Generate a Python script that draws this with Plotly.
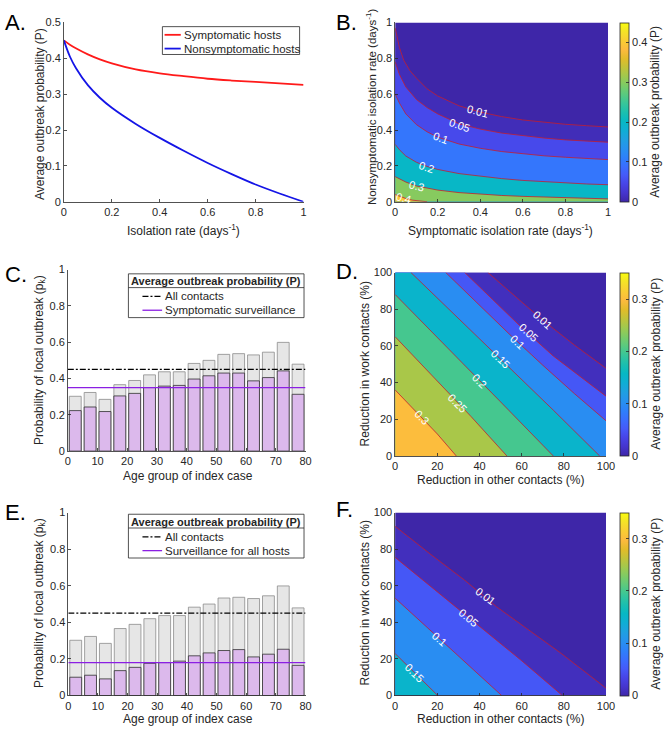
import plotly.graph_objects as go
from plotly.colors import sample_colorscale

W, H = 672, 733

# ---------------- DATA ----------------
# Panel A
a_rate = [0, 0.025, 0.05, 0.1, 0.15, 0.2, 0.3, 0.4, 0.5, 0.6, 0.7, 0.8, 0.9, 1.0]
a_sym = [0.45, 0.438, 0.428, 0.411, 0.397, 0.386, 0.369, 0.358, 0.350, 0.343, 0.338, 0.334, 0.330, 0.326]
a_non = [0.45, 0.405, 0.373, 0.325, 0.290, 0.262, 0.217, 0.178, 0.142, 0.108, 0.077, 0.048, 0.023, 0.0]

# Panel B contour lines (symptomatic rate -> nonsymptomatic rate)
b_levels = [0.01, 0.05, 0.1, 0.2, 0.3, 0.4]
b_x01 = [0.0, 0.02, 0.04, 0.07, 0.1, 0.15, 0.2, 0.3, 0.4, 0.5, 0.6, 0.7, 0.8, 0.9, 1.0]
b_y01 = [0.97, 0.86, 0.79, 0.73, 0.69, 0.63, 0.59, 0.535, 0.50, 0.475, 0.456, 0.442, 0.432, 0.424, 0.417]
b_x05 = [0.0, 0.02, 0.05, 0.1, 0.15, 0.2, 0.3, 0.4, 0.5, 0.6, 0.7, 0.8, 0.9, 1.0]
b_y05 = [0.78, 0.71, 0.64, 0.57, 0.525, 0.49, 0.435, 0.405, 0.383, 0.367, 0.355, 0.345, 0.337, 0.332]
b_x1 = [0.0, 0.02, 0.05, 0.1, 0.15, 0.2, 0.3, 0.4, 0.5, 0.6, 0.7, 0.8, 0.9, 1.0]
b_y1 = [0.60, 0.55, 0.49, 0.43, 0.39, 0.36, 0.322, 0.298, 0.28, 0.266, 0.256, 0.248, 0.241, 0.235]
b_x2 = [0.0, 0.02, 0.05, 0.1, 0.15, 0.2, 0.3, 0.4, 0.5, 0.6, 0.7, 0.8, 0.9, 1.0]
b_y2 = [0.32, 0.29, 0.255, 0.22, 0.197, 0.18, 0.157, 0.141, 0.129, 0.119, 0.111, 0.105, 0.099, 0.095]
b_x3 = [0.0, 0.02, 0.05, 0.1, 0.15, 0.2, 0.3, 0.4, 0.5, 0.6, 0.7, 0.8, 0.9, 1.0]
b_y3 = [0.14, 0.127, 0.11, 0.088, 0.075, 0.065, 0.051, 0.042, 0.035, 0.030, 0.026, 0.022, 0.019, 0.016]
b_x4 = [0.0, 0.02, 0.05, 0.08, 0.11, 0.15]
b_y4 = [0.04, 0.03, 0.018, 0.009, 0.004, 0.0]
b_lab = ["0.01", "0.05", "0.1", "0.2", "0.3", "0.4"]
b_lab_x = [0.385, 0.30, 0.215, 0.146, 0.10, 0.038]
b_lab_y = [0.505, 0.43, 0.355, 0.195, 0.086, 0.022]
b_lab_ang = [15, 19, 20, 19, 14, 14]

# Panels C / E (age groups)
age_mid = [2.5, 7.5, 12.5, 17.5, 22.5, 27.5, 32.5, 37.5, 42.5, 47.5, 52.5, 57.5, 62.5, 67.5, 72.5, 77.5]
p_all = [0.302, 0.323, 0.285, 0.366, 0.389, 0.420, 0.437, 0.437, 0.483, 0.500, 0.533, 0.537, 0.530, 0.545, 0.599, 0.479]
p_symp = [0.223, 0.243, 0.218, 0.304, 0.318, 0.350, 0.358, 0.362, 0.397, 0.415, 0.430, 0.430, 0.387, 0.405, 0.442, 0.313]
p_surv = [0.100, 0.111, 0.091, 0.136, 0.154, 0.176, 0.180, 0.188, 0.217, 0.233, 0.246, 0.251, 0.211, 0.226, 0.253, 0.165]
P_all = 0.45
P_symp = 0.35
P_surv = 0.18

# Panel D contour lines (other contacts % -> work contacts %)
d_levels = [0.01, 0.05, 0.1, 0.15, 0.2, 0.25, 0.3]
d_x01 = [44, 55, 65, 75, 85, 100]
d_y01 = [100, 88.8, 79.0, 69.5, 60.5, 47.8]
d_x05 = [33, 45, 60, 75, 100]
d_y05 = [100, 86.5, 70.0, 54.5, 32.6]
d_x1 = [24, 40, 55, 70, 85, 100]
d_y1 = [100, 82, 65.5, 49.5, 34, 19.2]
d_x15 = [7.5, 30, 52, 75, 97]
d_y15 = [100, 75, 50.5, 25, 0]
d_x2 = [0, 25, 50, 75]
d_y2 = [88, 59, 29.5, 0]
d_x25 = [0, 18, 36, 53]
d_y25 = [65, 43, 21.5, 0]
d_x3 = [0, 10, 20, 29]
d_y3 = [36, 24, 12, 0]
d_lab = ["0.01", "0.05", "0.1", "0.15", "0.2", "0.25", "0.3"]
d_lab_x = [70, 63, 58, 50, 40, 29.5, 12.4]
d_lab_y = [74.3, 67.5, 62.2, 53, 41, 29, 21]
d_lab_ang = [42, 43, 44, 44, 44, 45, 45]

# Panel F contour lines
f_levels = [0.01, 0.05, 0.1, 0.15]
f_x01 = [0, 17, 33, 48, 64, 79, 95, 100]
f_y01 = [92.5, 77, 63, 48.6, 35.3, 22.8, 8.5, 4]
f_x05 = [0, 20, 40, 60, 79.3]
f_y05 = [75.5, 56.5, 37.5, 19, 0]
f_x1 = [0, 12, 25, 38, 50.5]
f_y1 = [53.2, 40.5, 27, 13.5, 0]
f_x15 = [0, 10, 20.2]
f_y15 = [22.9, 11.5, 0]
f_lab = ["0.01", "0.05", "0.1", "0.15"]
f_lab_x = [42.8, 35, 21, 9.3]
f_lab_y = [54.5, 42.5, 31, 12.5]
f_lab_ang = [37, 40, 42, 44]

cmax_B = 0.45
cmax_DF = 0.35

# parula colormap
parula = [
    [0.00, "rgb(62,38,168)"], [0.05, "rgb(69,53,205)"], [0.10, "rgb(71,68,231)"],
    [0.15, "rgb(69,90,249)"], [0.20, "rgb(57,110,254)"], [0.25, "rgb(45,129,250)"],
    [0.30, "rgb(39,146,239)"], [0.35, "rgb(31,160,225)"], [0.40, "rgb(15,174,212)"],
    [0.45, "rgb(7,184,196)"], [0.50, "rgb(27,191,175)"], [0.55, "rgb(55,197,154)"],
    [0.60, "rgb(88,202,128)"], [0.65, "rgb(123,203,103)"], [0.70, "rgb(159,201,79)"],
    [0.75, "rgb(193,195,58)"], [0.80, "rgb(226,188,42)"], [0.85, "rgb(252,186,62)"],
    [0.90, "rgb(249,205,52)"], [0.95, "rgb(244,226,40)"], [1.00, "rgb(249,251,14)"],
]

TXT = "#262626"
LINE_RED = "#c41e2e"
PURPLE = "#8b1fe3"
FONT = "Liberation Sans, Arial, sans-serif"
TICK = 11

fig = go.Figure()


def xd(px):
    return px / W


def yd(py):
    return 1 - py / H


# ---------------- axes layout ----------------
axes = {
    "": dict(x=(62, 306), y=(16.7, 199), xr=[0, 1], yr=[0, 0.5],
             xt=[0, 0.2, 0.4, 0.6, 0.8, 1], yt=[0, 0.1, 0.2, 0.3, 0.4, 0.5]),
    "2": dict(x=(399.3, 616), y=(16.7, 199), xr=[0, 1], yr=[0, 1],
              xt=[0, 0.2, 0.4, 0.6, 0.8, 1], yt=[0, 0.2, 0.4, 0.6, 0.8, 1]),
    "3": dict(x=(66, 308), y=(268, 452.5), xr=[0, 80], yr=[0, 1],
              xt=list(range(0, 81, 10)), yt=[0, 0.2, 0.4, 0.6, 0.8, 1]),
    "4": dict(x=(399.3, 614), y=(271, 457.5), xr=[0, 100], yr=[0, 100],
              xt=list(range(0, 101, 20)), yt=list(range(0, 101, 20))),
    "5": dict(x=(66.5, 308), y=(515, 701), xr=[0, 80], yr=[0, 1],
              xt=list(range(0, 81, 10)), yt=[0, 0.2, 0.4, 0.6, 0.8, 1]),
    "6": dict(x=(399.3, 614), y=(515, 701), xr=[0, 100], yr=[0, 100],
              xt=list(range(0, 101, 20)), yt=list(range(0, 101, 20))),
}


def fmt(v):
    return "%g" % v


layout_axes = {}
for k, a in axes.items():
    common = dict(showline=True, linecolor=TXT, linewidth=0.8, ticks="inside", ticklen=3,
                  tickwidth=0.8, tickcolor=TXT, showgrid=False, zeroline=False,
                  tickfont=dict(size=TICK, color=TXT, family=FONT), fixedrange=True, mirror=False)
    layout_axes["xaxis" + k] = dict(domain=[xd(a["x"][0]), xd(a["x"][1])], range=a["xr"],
                                    anchor="y" + k, tickvals=a["xt"],
                                    ticktext=[fmt(v) for v in a["xt"]], **common)
    layout_axes["yaxis" + k] = dict(domain=[yd(a["y"][1]), yd(a["y"][0])], range=a["yr"],
                                    anchor="x" + k, tickvals=a["yt"],
                                    ticktext=[fmt(v) for v in a["yt"]], ticklabelstandoff=0, **common)

# ---------------- Panel A ----------------
fig.add_trace(go.Scatter(x=a_rate, y=a_sym, mode="lines", line=dict(color="#ff1a1a", width=1.8, shape="spline"),
                         showlegend=False, xaxis="x", yaxis="y"))
fig.add_trace(go.Scatter(x=a_rate, y=a_non, mode="lines", line=dict(color="#1515e6", width=1.8, shape="spline"),
                         showlegend=False, xaxis="x", yaxis="y"))


# ---------------- contour panels ----------------
def band_color(level, cmax):
    return sample_colorscale(parula, [min(level / cmax, 1.0)])[0]


def region(xs, ys, xmax, ymax):
    px, py = list(xs), list(ys)
    if py[-1] > 0:
        px.append(xmax); py.append(0)
    px.append(0); py.append(0)
    if px[0] > 0:
        px.append(0); py.append(ymax)
    px.append(xs[0]); py.append(ys[0])
    return px, py


def contour_panel(k, lines, levels, cmax, xmax, ymax, labs, lx, ly, lang):
    fig.add_trace(go.Scatter(x=[0, xmax, xmax, 0, 0], y=[0, 0, ymax, ymax, 0], fill="toself",
                             fillcolor=band_color(0.0, cmax), mode="lines", line=dict(width=0),
                             hoverinfo="skip", showlegend=False, xaxis="x" + k, yaxis="y" + k))
    for (xs, ys), lev in zip(lines, levels):
        px, py = region(xs, ys, xmax, ymax)
        fig.add_trace(go.Scatter(x=px, y=py, fill="toself", fillcolor=band_color(lev, cmax),
                                 mode="lines", line=dict(width=0), hoverinfo="skip",
                                 showlegend=False, xaxis="x" + k, yaxis="y" + k))
    for xs, ys in lines:
        fig.add_trace(go.Scatter(x=xs, y=ys, mode="lines", line=dict(color=LINE_RED, width=0.8),
                                 hoverinfo="skip", showlegend=False, xaxis="x" + k, yaxis="y" + k))
    for t, x, y, ang in zip(labs, lx, ly, lang):
        fig.add_annotation(x=x, y=y, xref="x" + k, yref="y" + k, text=t, showarrow=False,
                           textangle=ang, font=dict(size=11, color="white", family=FONT))


contour_panel("2", [(b_x01, b_y01), (b_x05, b_y05), (b_x1, b_y1), (b_x2, b_y2), (b_x3, b_y3), (b_x4, b_y4)],
              b_levels, cmax_B, 1, 1, b_lab, b_lab_x, b_lab_y, b_lab_ang)
contour_panel("4", [(d_x01, d_y01), (d_x05, d_y05), (d_x1, d_y1), (d_x15, d_y15), (d_x2, d_y2),
                    (d_x25, d_y25), (d_x3, d_y3)],
              d_levels, cmax_DF, 100, 100, d_lab, d_lab_x, d_lab_y, d_lab_ang)
contour_panel("6", [(f_x01, f_y01), (f_x05, f_y05), (f_x1, f_y1), (f_x15, f_y15)],
              f_levels, cmax_DF, 100, 100, f_lab, f_lab_x, f_lab_y, f_lab_ang)

# colorbar carriers
for k, ca in [("2", "coloraxis"), ("4", "coloraxis2"), ("6", "coloraxis3")]:
    fig.add_trace(go.Scatter(x=[0.5], y=[0.5], mode="markers",
                             marker=dict(color=[0], coloraxis=ca, size=1, opacity=0),
                             hoverinfo="skip", showlegend=False, xaxis="x" + k, yaxis="y" + k))


def cbar(ytop, ybot, tv):
    return dict(x=xd(628.5), xanchor="left", y=yd(ybot), yanchor="bottom", len=(ybot - ytop) / H,
                lenmode="fraction", thickness=9, thicknessmode="pixels", xpad=0, ypad=0,
                outlinewidth=0.8, outlinecolor=TXT, tickvals=tv, ticktext=[fmt(v) for v in tv],
                ticks="inside", ticklen=3, tickcolor=TXT, tickwidth=0.8,
                tickfont=dict(size=TICK, color=TXT, family=FONT))


# ---------------- Panels C / E ----------------
def bar_panel(k, top_vals, P_line):
    fig.add_trace(go.Bar(x=age_mid, y=p_all, width=4, marker=dict(color="#e6e6e6", line=dict(color="#8c8c8c", width=0.8)),
                         showlegend=False, xaxis="x" + k, yaxis="y" + k))
    fig.add_trace(go.Bar(x=age_mid, y=top_vals, width=4, marker=dict(color="#dcb9ec", line=dict(color="#303030", width=0.8)),
                         showlegend=False, xaxis="x" + k, yaxis="y" + k))
    fig.add_trace(go.Scatter(x=[0, 80], y=[P_all, P_all], mode="lines",
                             line=dict(color="black", width=1.3, dash="6px,2px,2px,2px"),
                             showlegend=False, xaxis="x" + k, yaxis="y" + k))
    fig.add_trace(go.Scatter(x=[0, 80], y=[P_line, P_line], mode="lines",
                             line=dict(color=PURPLE, width=1.3),
                             showlegend=False, xaxis="x" + k, yaxis="y" + k))


bar_panel("3", p_symp, P_symp)
bar_panel("5", p_surv, P_surv)


# ---------------- annotations / manual legends ----------------
def ann(text, px, py, size=12, angle=0, xanchor="center", bold=False, color=TXT):
    fig.add_annotation(x=xd(px), y=yd(py), xref="paper", yref="paper", text=("<b>%s</b>" % text) if bold else text,
                       showarrow=False, textangle=angle, xanchor=xanchor, yanchor="middle",
                       font=dict(size=size, color=color, family=FONT))


shapes = []


def rect(x0, y0, x1, y1):
    shapes.append(dict(type="rect", xref="paper", yref="paper", x0=xd(x0), x1=xd(x1), y0=yd(y1), y1=yd(y0),
                       line=dict(color=TXT, width=0.8), fillcolor="white", layer="above"))


def seg(x0, y0, x1, y1, color, width, dash="solid"):
    shapes.append(dict(type="line", xref="paper", yref="paper", x0=xd(x0), x1=xd(x1), y0=yd(y0), y1=yd(y1),
                       line=dict(color=color, width=width, dash=dash), layer="above"))


# Legend A
rect(162.3, 21, 302, 49.3)
seg(164.5, 29.3, 181, 29.3, "#ff1a1a", 1.8)
seg(164.5, 43.3, 181, 43.3, "#1515e6", 1.8)
ann("Symptomatic hosts", 182.5, 29.3, 11.5, xanchor="left")
ann("Nonsymptomatic hosts", 182.5, 43.3, 11.5, xanchor="left")

# Legends C / E
for (y0, lab) in [(272.3, "Symptomatic surveillance"), (516.7, "Surveillance for all hosts")]:
    rect(127.7, y0, 306.5, y0 + 44.5)
    seg(127.7, y0 + 14, 306.5, y0 + 14, TXT, 0.8)
    ann("Average outbreak probability (P)", 217, y0 + 7.5, 11, bold=True)
    seg(142, y0 + 23, 162, y0 + 23, "black", 1.3, "6px,2px,2px,2px")
    seg(142, y0 + 37, 162, y0 + 37, PURPLE, 1.3)
    ann("All contacts", 163, y0 + 23, 11.5, xanchor="left")
    ann(lab, 163, y0 + 37, 11.5, xanchor="left")

fig.layout.shapes = shapes

# axis titles
ann("Isolation rate (days<sup>-1</sup>)", 184, 228, 12)
ann("Average outbreak probability (P)", 37.5, 110, 12, angle=-90)
ann("Symptomatic isolation rate (days<sup>-1</sup>)", 507, 228, 12)
ann("Nonsymptomatic isolation rate (days<sup>-1</sup>)", 375.5, 102, 11.5, angle=-90)
ann("Age group of index case", 188, 478, 12)
ann("Probability of local outbreak (p<sub>k</sub>)", 37.5, 360, 12, angle=-90)
ann("Reduction in other contacts (%)", 507, 482, 12)
ann("Reduction in work contacts (%)", 369, 364, 12, angle=-90)
ann("Age group of index case", 188, 725, 12)
ann("Probability of local outbreak (p<sub>k</sub>)", 37.5, 607, 12, angle=-90)
ann("Reduction in other contacts (%)", 507, 725, 12)
ann("Reduction in work contacts (%)", 369, 607, 12, angle=-90)
# colorbar titles
ann("Average outbreak probability (P)", 664.5, 108, 12, angle=-90)
ann("Average outbreak probability (P)", 664.5, 364, 12, angle=-90)
ann("Average outbreak probability (P)", 664.5, 608, 12, angle=-90)
# panel letters
ann("A.", 0, 17, 22, xanchor="left", color="black")
ann("B.", 337, 17, 22, xanchor="left", color="black")
ann("C.", 0, 273, 22, xanchor="left", color="black")
ann("D.", 337, 270, 22, xanchor="left", color="black")
ann("E.", 0, 515, 22, xanchor="left", color="black")
ann("F.", 337, 512, 22, xanchor="left", color="black")

fig.update_layout(
    width=W, height=H, margin=dict(l=0, r=0, t=0, b=0), paper_bgcolor="white", plot_bgcolor="white",
    barmode="overlay", showlegend=False, font=dict(family=FONT, color=TXT),
    coloraxis=dict(colorscale=parula, cmin=0, cmax=cmax_B, colorbar=cbar(16.7, 199, [0, 0.1, 0.2, 0.3, 0.4])),
    coloraxis2=dict(colorscale=parula, cmin=0, cmax=cmax_DF, colorbar=cbar(271, 457.5, [0, 0.1, 0.2, 0.3])),
    coloraxis3=dict(colorscale=parula, cmin=0, cmax=cmax_DF, colorbar=cbar(515, 701, [0, 0.1, 0.2, 0.3])),
    **layout_axes,
)

fig.write_html("out.html", config={"displayModeBar": False, "staticPlot": True},
               post_script="document.body.style.margin='0px';document.body.style.padding='0px';")
